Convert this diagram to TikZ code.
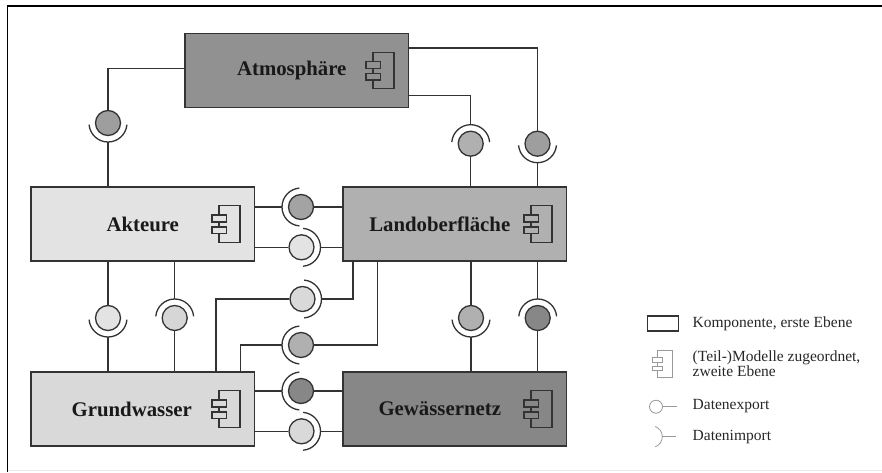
\documentclass[tikz,border=0pt]{standalone}
\usepackage{fontspec}
\setmainfont{Liberation Serif}
\tikzset{
    conn/.style={draw=black!80, line width=1.3pt},
    komp/.style={draw=black!80, line width=1.5pt, minimum width=223.5pt, minimum height=74pt, inner sep=0pt,
        font=\fontsize{20.8}{24}\selectfont\bfseries, text=black!90},
    export/.style={circle, draw=black!80, line width=1.3pt, minimum size=25pt, inner sep=0pt},
    legtext/.style={anchor=west, align=left, inner sep=0pt, text=black!85, font=\fontsize{15.5}{15.5}\selectfont},
    kompicon/.pic={
        \draw (-36.4,9) -- (-36.4,18.2) -- (-15.4,18.2) -- (-15.4,-18.2) -- (-36.4,-18.2) -- (-36.4,-9.5);
        \draw (-36.4,2) -- (-36.4,-3);
        \draw (-43.4,2) rectangle (-29,9);
        \draw (-43.4,-3) rectangle (-29,-9.5);
    }
}
\begin{document}
\begin{tikzpicture}[x=1pt, y=1pt]
    \useasboundingbox (0,0) rectangle (882,472);

    % Rahmen
    \draw[line width=1.2pt] (882,466) -- (7.5,466) -- (7.5,0);
    \draw[black!8, line width=1pt] (7.5,1.5) -- (882,1.5);

    % Komponenten, erste Ebene
    \node[komp, fill=black!43] (atmosphaere) at (296.75,401.5) {\hspace*{-10pt}Atmosphäre};
    \node[komp, fill=black!11] (akteure) at (142.75,248) {Akteure};
    \node[komp, fill=black!31] (land) at (454.75,248) {\hspace*{-30pt}Landoberfläche};
    \node[komp, fill=black!15] (grund) at (142.75,63) {\hspace*{-22pt}Grundwasser};
    \node[komp, fill=black!47] (gewaesser) at (454.75,63) {\hspace*{-30pt}Gewässernetz};

    % Symbole der (Teil-)Modelle
    \foreach \k in {atmosphaere,akteure,land,grund,gewaesser}
        \pic[black!80, line width=1.3pt] at (\k.east) {kompicon};

    % Datenexport (Kreis) und Datenimport (Bogen)
    \foreach \n/\x/\y/\g/\a in {
        atmAkt/108/349/38/-90, atmLandA/470.7/328.3/31/90, atmLandB/537.5/328.3/38/-90,
        aktLandA/301/265/36/180, aktLandB/301.5/224.7/11/0,
        grundLandA/302.5/173/15/0, grundLandB/301/127/31/180,
        grundGewA/301/81/47/180, grundGewB/301.5/40.7/15/0,
        aktGrundA/108/154/11/-90, aktGrundB/174.7/154/16/90,
        landGewA/471/154/31/-90, landGewB/537.7/154/47/90}
    {
        \node[export, fill=black!\g] (exp\n) at (\x,\y) {};
        \draw[conn] (\x,\y) ++(\a:19pt) coordinate (imp\n)
            arc[start angle=\a, delta angle=85, radius=19pt]
            (imp\n) arc[start angle=\a, delta angle=-85, radius=19pt];
    }

    % Verbindungen oben
    \draw[conn] ([yshift=2pt]atmosphaere.west) -| (expatmAkt);
    \draw[conn] (impatmAkt) -- (impatmAkt |- akteure.north);
    \draw[conn] ([yshift=-25pt]atmosphaere.east) -| (impatmLandA);
    \draw[conn] (expatmLandA) -- (expatmLandA |- land.north);
    \draw[conn] ([yshift=22.5pt]atmosphaere.east) -| (expatmLandB);
    \draw[conn] (impatmLandB) -- (impatmLandB |- land.north);

    % Verbindungen in der Mitte
    \draw[conn] (akteure.east |- impaktLandA) -- (impaktLandA);
    \draw[conn] (expaktLandA) -- (expaktLandA -| land.west);
    \draw[conn] (akteure.east |- expaktLandB) -- (expaktLandB);
    \draw[conn] (impaktLandB) -- (impaktLandB -| land.west);
    \draw[conn] ([xshift=73.3pt]grund.north) |- (expgrundLandA);
    \draw[conn] (impgrundLandA) -| ([xshift=-101.75pt]land.south);
    \draw[conn] ([xshift=97.5pt]grund.north) |- (impgrundLandB);
    \draw[conn] (expgrundLandB) -| ([xshift=-77.5pt]land.south);

    % Verbindungen unten
    \draw[conn] (grund.east |- impgrundGewA) -- (impgrundGewA);
    \draw[conn] (expgrundGewA) -- (expgrundGewA -| gewaesser.west);
    \draw[conn] (grund.east |- expgrundGewB) -- (expgrundGewB);
    \draw[conn] (impgrundGewB) -- (impgrundGewB -| gewaesser.west);

    % Verbindungen senkrecht
    \draw[conn] (expaktGrundA) -- (expaktGrundA |- akteure.south);
    \draw[conn] (impaktGrundA) -- (impaktGrundA |- grund.north);
    \draw[conn] (impaktGrundB) -- (impaktGrundB |- akteure.south);
    \draw[conn] (expaktGrundB) -- (expaktGrundB |- grund.north);
    \draw[conn] (explandGewA) -- (explandGewA |- land.south);
    \draw[conn] (implandGewA) -- (implandGewA |- gewaesser.north);
    \draw[conn] (implandGewB) -- (implandGewB |- land.south);
    \draw[conn] (explandGewB) -- (explandGewB |- gewaesser.north);

    % Legende
    \node[draw=black!80, line width=1.6pt, minimum width=31pt, minimum height=15pt, inner sep=0pt] (legKomp) at (663,148.5) {};
    \pic[black!40, line width=.8pt, scale=.72] at (683.6,108) {kompicon};
    \node[circle, draw=black!40, line width=.8pt, minimum size=13pt, inner sep=0pt] (legExport) at (656,65.3) {};
    \coordinate (legExportEnd) at (677.3,65.3);
    \draw[black!40, line width=.8pt] (legExport) -- (legExportEnd);
    \coordinate (legImport) at (662.3,35.3);
    \coordinate (legImportEnd) at (676,35.3);
    \draw[black!40, line width=.8pt] (legImport) -- (legImportEnd);
    \draw[black!40, line width=.8pt] (legImport) arc[start angle=0, delta angle=70, radius=10.8pt]
        (legImport) arc[start angle=0, delta angle=-70, radius=10.8pt];

    \node[legtext] (legTextKomp) at (692.5,148) {Komponente, erste Ebene};
    \node[legtext] (legTextModell) at (692.5,108.5) {(Teil-)Modelle zugeordnet,\\zweite Ebene};
    \node[legtext] (legTextExport) at (692.5,65.5) {Datenexport};
    \node[legtext] (legTextImport) at (692.5,34.5) {Datenimport};
\end{tikzpicture}
\end{document}
